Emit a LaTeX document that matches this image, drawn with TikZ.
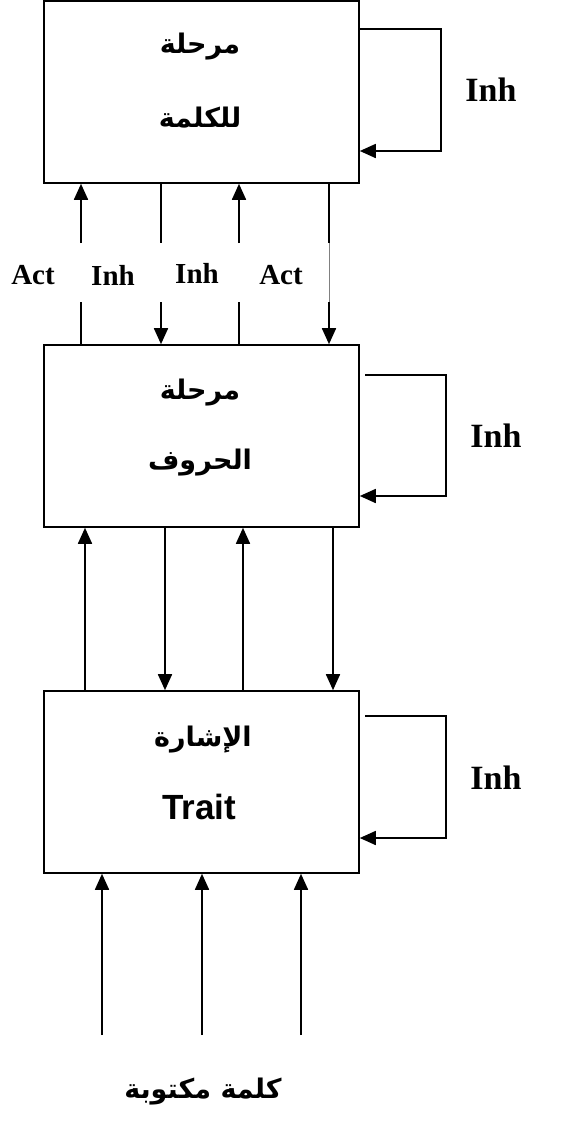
\documentclass[tikz,border=0pt]{standalone}
\usepackage{fontspec}
\setmainfont{Liberation Serif}
\newfontfamily\arabicfont[Script=Arabic]{DejaVu Sans}
\newfontfamily\arialfont{Liberation Sans}
\TeXXeTstate=1
\usetikzlibrary{arrows.meta}
\usetikzlibrary{positioning}
\tikzstyle{stage} = [
    rectangle, 
    draw=black, 
    line width=1.6pt, 
    minimum width=315pt, 
    minimum height=182pt, 
    inner sep=0pt
]
\tikzstyle{artext} = [
    font=\arabicfont\bfseries\fontsize{27}{32}\selectfont, 
    inner sep=0pt
]
\tikzstyle{lbl} = [
    font=\bfseries\fontsize{29}{34}\selectfont, 
    inner sep=0pt
]
\tikzstyle{biglbl} = [
    font=\bfseries\fontsize{34}{40}\selectfont, 
    inner sep=0pt
]
\tikzstyle{link} = [
    line width=1.7pt, 
    -{Triangle[length=16pt, width=14pt]}
]
\tikzstyle{plain} = [
    line width=1.7pt
]

\begin{document}
\begin{tikzpicture}[x=1pt, y=-1pt]
\useasboundingbox (0,0) rectangle (561,1122);
% the three stages
\node [stage] (word)  at (201.5,92)  {};
\node [stage] (lett)  at (201.5,436) {};
\node [stage] (trait) at (201.5,782) {};
\node [artext] (word1)  at (200,47)  {\beginR مرحلة\endR};
\node [artext] (word2)  at (200,118) {\beginR للكلمة\endR};
\node [artext] (lett1)  at (200,393) {\beginR مرحلة\endR};
\node [artext] (lett2)  at (200,463) {\beginR الحروف\endR};
\node [artext] (trait1) at (203,740) {\beginR الإشارة\endR};
\node [font=\arialfont\bfseries\fontsize{35}{40}\selectfont, inner sep=0pt] (trait2) at (199,807) {Trait};
\node [artext] (input) at (203,1092) {\beginR كلمة مكتوبة\endR};
% self inhibition loops
\node [biglbl] (inhw) at (491,90)  {Inh};
\node [biglbl] (inhl) at (496,436) {Inh};
\node [biglbl] (inht) at (496,778) {Inh};
\draw [link] (word.east |- 0,29) -- (441,29) -- (441,151) -- (word.east |- 0,151);
\draw [link] (365,375) -- (446,375) -- (446,496) -- (lett.east |- 0,496);
\draw [link] (365,716) -- (446,716) -- (446,838) -- (trait.east |- 0,838);
% links between word and letter stages
\node [lbl] (act1) at (33,275)  {Act};
\node [lbl] (inh1) at (113,275) {Inh};
\node [lbl] (inh2) at (197,273) {Inh};
\node [lbl] (act2) at (281,275) {Act};
\coordinate (u1a) at (81,243);  \coordinate (u1b) at (81,302);
\coordinate (d1a) at (161,243); \coordinate (d1b) at (161,302);
\coordinate (u2a) at (239,243); \coordinate (u2b) at (239,302);
\coordinate (d2a) at (329,243); \coordinate (d2b) at (329,302);
\draw [link]  (u1a) -- (word.south -| u1a);
\draw [plain] (lett.north -| u1b) -- (u1b);
\draw [plain] (word.south -| d1a) -- (d1a);
\draw [link]  (d1b) -- (lett.north -| d1b);
\draw [link]  (u2a) -- (word.south -| u2a);
\draw [plain] (lett.north -| u2b) -- (u2b);
\draw [plain] (word.south -| d2a) -- (d2a);
\draw [gray, line width=0.5pt] (d2a) -- (d2b);
\draw [link]  (d2b) -- (lett.north -| d2b);
% links between letter and trait stages
\draw [link] (trait.north -| 85,0)  -- (lett.south -| 85,0);
\draw [link] (lett.south -| 165,0)  -- (trait.north -| 165,0);
\draw [link] (trait.north -| 243,0) -- (lett.south -| 243,0);
\draw [link] (lett.south -| 333,0)  -- (trait.north -| 333,0);
% input
\foreach \x in {102,202,301}
    \draw [link] (\x,1035) -- (trait.south -| \x,0);
\end{tikzpicture}
\end{document}
